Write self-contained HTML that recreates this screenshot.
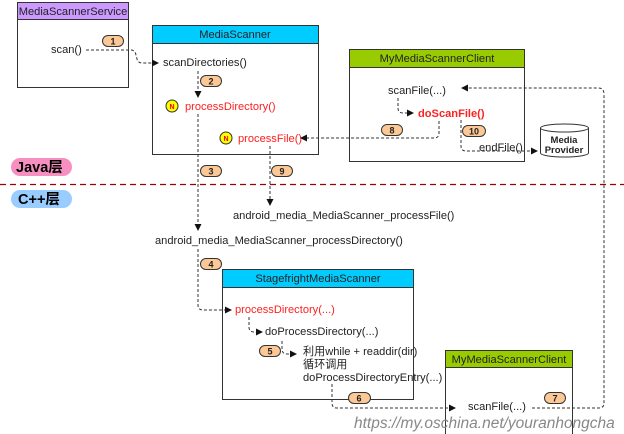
<!DOCTYPE html>
<html><head><meta charset="utf-8"><style>
html,body{margin:0;padding:0;background:#fff;width:624px;height:434px;overflow:hidden}
svg{display:block}
text{font-family:"Liberation Sans","Noto Sans CJK SC",sans-serif;font-size:11.1px;fill:#222}
.r{fill:#ff2020}
.d{fill:none;stroke:#333;stroke-width:1;stroke-dasharray:3,2}
.b{fill:#fcc896;stroke:#333;stroke-width:1}
.bt{font-size:9px;font-weight:bold;text-anchor:middle}
</style></head><body>
<svg width="624" height="434" viewBox="0 0 624 434" xmlns="http://www.w3.org/2000/svg">
<defs><marker id="a" markerWidth="8" markerHeight="8" refX="6" refY="4" orient="auto" markerUnits="userSpaceOnUse"><path d="M0,0.5 L7,4 L0,7.5z" fill="#111"/></marker></defs>

<rect x="17.5" y="2.5" width="111" height="85" fill="#fff" stroke="#333"/>
<rect x="17.5" y="2.5" width="111" height="17" fill="#cc99ff" stroke="#333"/>
<text x="73" y="15" text-anchor="middle">MediaScannerService</text>

<rect x="152.5" y="25.5" width="166" height="129" fill="#fff" stroke="#333"/>
<rect x="152.5" y="25.5" width="166" height="18" fill="#00ccff" stroke="#333"/>
<text x="235" y="38" text-anchor="middle">MediaScanner</text>

<rect x="349.5" y="49.5" width="175" height="112" fill="#fff" stroke="#333"/>
<rect x="349.5" y="49.5" width="175" height="18" fill="#99cc00" stroke="#333"/>
<text x="437" y="62" text-anchor="middle">MyMediaScannerClient</text>

<rect x="222.5" y="269.5" width="191" height="130" fill="#fff" stroke="#333"/>
<rect x="222.5" y="269.5" width="191" height="18" fill="#00ccff" stroke="#333"/>
<text x="318" y="282" text-anchor="middle">StagefrightMediaScanner</text>

<rect x="445.5" y="350.5" width="127" height="90" fill="#fff" stroke="#333"/>
<rect x="445.5" y="350.5" width="127" height="17" fill="#99cc00" stroke="#333"/>
<text x="509" y="363" text-anchor="middle">MyMediaScannerClient</text>

<path d="M540.5,128 L540.5,153 A24,4 0 0 0 588.5,153 L588.5,128" fill="#fff" stroke="#333"/>
<ellipse cx="564.5" cy="128" rx="24" ry="4" fill="#fff" stroke="#333"/>
<text x="564" y="143" text-anchor="middle" style="font-size:9.5px;font-weight:bold">Media</text>
<text x="564" y="153" text-anchor="middle" style="font-size:9.5px;font-weight:bold">Provider</text>

<rect x="11" y="158" width="61" height="18" rx="9" fill="#f78fc0"/>
<text x="16" y="172" style="font-size:14.5px;font-weight:bold;fill:#000">Java层</text>
<line x1="0" y1="184.5" x2="624" y2="184.5" stroke="#a00000" stroke-width="1.2" stroke-dasharray="6,4"/>
<rect x="11" y="190" width="61" height="18" rx="9" fill="#99ccff"/>
<text x="18" y="204" style="font-size:14.5px;font-weight:bold;fill:#000">C++层</text>

<text x="51" y="53">scan()</text>
<text x="163" y="66">scanDirectories()</text>
<circle cx="172" cy="106" r="6" fill="#ffff00" stroke="#333"/><text x="172" y="109" text-anchor="middle" style="font-size:7px;font-weight:bold;fill:#e00">N</text>
<text x="185" y="110" class="r">processDirectory()</text>
<circle cx="226" cy="138" r="6" fill="#ffff00" stroke="#333"/><text x="226" y="141" text-anchor="middle" style="font-size:7px;font-weight:bold;fill:#e00">N</text>
<text x="238" y="142" class="r">processFile()</text>
<text x="388" y="94">scanFile(...)</text>
<text x="418" y="117" class="r" style="font-weight:bold">doScanFile()</text>
<text x="479" y="151">endFile()</text>
<text x="233" y="219">android_media_MediaScanner_processFile()</text>
<text x="155" y="244">android_media_MediaScanner_processDirectory()</text>
<text x="235" y="313" class="r">processDirectory(...)</text>
<text x="265" y="335">doProcessDirectory(...)</text>
<text x="303" y="355">利用while + readdir(dir)</text>
<text x="303" y="368">循环调用</text>
<text x="303" y="381">doProcessDirectoryEntry(...)</text>
<text x="468" y="410">scanFile(...)</text>

<path class="d" d="M86,50 H131 Q135,50 136,55 L137,59 Q138,63 142,63 H158" marker-end="url(#a)"/>
<path class="d" d="M198,71 V97" marker-end="url(#a)"/>
<path class="d" d="M198,114 V230" marker-end="url(#a)"/>
<path class="d" d="M198,249 V305 Q198,310 203,310 H231" marker-end="url(#a)"/>
<path class="d" d="M270,146 V205" marker-end="url(#a)"/>
<path class="d" d="M249,317 V327 Q249,332 254,332 H262" marker-end="url(#a)"/>
<path class="d" d="M282,341 V349 Q282,354 287,354 H296" marker-end="url(#a)"/>
<path class="d" d="M332,384 V403 Q332,408 337,408 H455" marker-end="url(#a)"/>
<path class="d" d="M532,408 H599 Q604,408 604,403 V94 Q604,88 598,88 H462" marker-end="url(#a)"/>
<path class="d" d="M398,98 V108 Q398,113 403,113 H413" marker-end="url(#a)"/>
<path class="d" d="M439,121 V133 Q439,138 434,138 H301" marker-end="url(#a)"/>
<path class="d" d="M461,120 V146 Q461,151 466,151 H537" marker-end="url(#a)"/>

<rect class="b" x="102.5" y="35.5" width="21" height="11" rx="5.5"/><text class="bt" x="113" y="44.5">1</text>
<rect class="b" x="200.5" y="75.5" width="21" height="11" rx="5.5"/><text class="bt" x="211" y="84.5">2</text>
<rect class="b" x="200.5" y="165.5" width="21" height="11" rx="5.5"/><text class="bt" x="211" y="174.5">3</text>
<rect class="b" x="271.5" y="165.5" width="21" height="11" rx="5.5"/><text class="bt" x="282" y="174.5">9</text>
<rect class="b" x="200.5" y="258.5" width="21" height="11" rx="5.5"/><text class="bt" x="211" y="267.5">4</text>
<rect class="b" x="259.5" y="345.5" width="21" height="11" rx="5.5"/><text class="bt" x="270" y="354.5">5</text>
<rect class="b" x="348.5" y="392.5" width="22" height="11" rx="5.5"/><text class="bt" x="359" y="401.5">6</text>
<rect class="b" x="544.5" y="392.5" width="21" height="11" rx="5.5"/><text class="bt" x="555" y="401.5">7</text>
<rect class="b" x="381.5" y="124.5" width="21" height="11" rx="5.5"/><text class="bt" x="392" y="133.5">8</text>
<rect class="b" x="462.5" y="125.5" width="23" height="11" rx="5.5"/><text class="bt" x="474" y="134.5">10</text>

<text x="354" y="428" style="font-size:15.5px;font-style:italic;fill:#888">https://my.oschina.net/youranhongcha</text>
</svg>
</body></html>
